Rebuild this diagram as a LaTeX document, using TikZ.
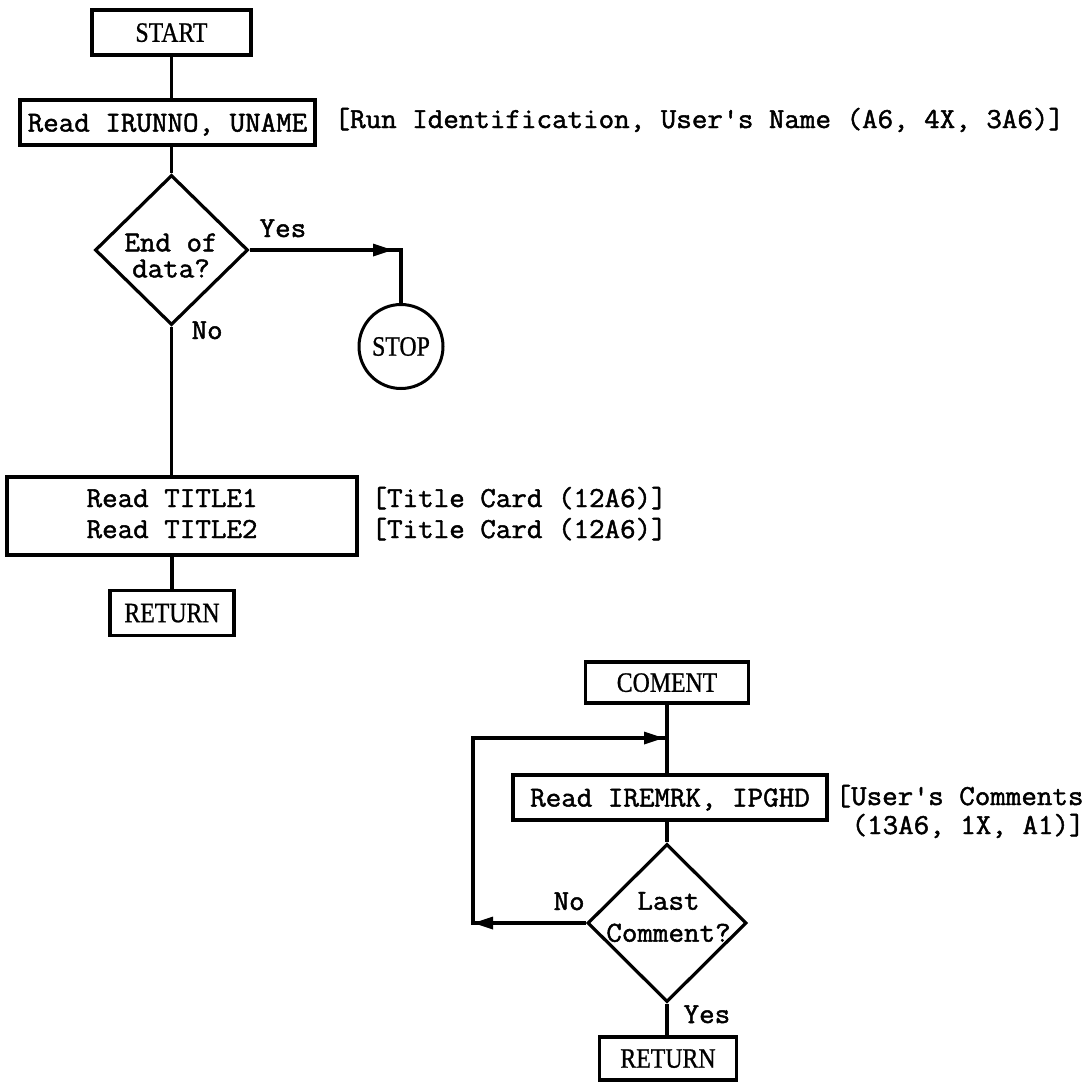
\documentclass[tikz,border=0pt]{standalone}
\usepackage{fontspec}
\usetikzlibrary{shapes.geometric,arrows.meta,calc}
\newfontfamily\flowmono[FakeBold=1.6,FakeStretch=1.04]{Latin Modern Mono}
\newfontfamily\flowserif[FakeStretch=0.85,FakeBold=0.8]{Liberation Serif}
\begin{document}
\begin{tikzpicture}[x=1pt,y=-1pt,
  line width=3.2pt,
  box/.style={draw, rectangle, inner sep=0pt, line width=3.2pt, text depth=0pt},
  dia/.style={draw, diamond, aspect=1, inner sep=0pt, line width=3.2pt},
  term/.style={draw, circle, inner sep=0pt, line width=3pt},
  txt/.style={inner sep=0pt, font=\flowmono\fontsize{29}{32}\selectfont},
  lbl/.style={font=\flowserif\fontsize{28}{30}\selectfont},
  arr/.style={-{Triangle[length=20pt,width=12pt]}},
]
\useasboundingbox (0,0) rectangle (1086,1082);

% ---------- upper flowchart ----------
\node[box, lbl, minimum width=159, minimum height=45] (start) at (171.5,32.5) {START};
\node[box, txt, minimum width=295, minimum height=45] (read1) at (167.5,122.5) {Read IRUNNO, UNAME};
\node[dia, minimum width=153, minimum height=150] (dec1) at (171.5,250) {};
\node[term, lbl, minimum size=84] (stop) at (401,346.5) {STOP};
\node[box, minimum width=350, minimum height=78] (title) at (182,516) {};
\node[box, lbl, minimum width=124, minimum height=45] (ret1) at (172,613) {RETURN};

\node[txt, align=center, font=\flowmono\fontsize{29}{26}\selectfont] (d1) at (171,255.5) {End of\\data?};
\node[txt, anchor=base west] (yes1) at (258,237) {Yes};
\node[txt, anchor=base west] (no1) at (190,339) {No};
\node[txt, anchor=base west] (t1) at (85,507) {Read TITLE1};
\node[txt, anchor=base west] (t2) at (85,538) {Read TITLE2};
\node[txt, anchor=base west] (ann1) at (333,128) {[Run Identification, User\textquotesingle s Name (A6, 4X, 3A6)]};
\node[txt, anchor=base west] (ann2) at (370,507) {[Title Card (12A6)]};
\node[txt, anchor=base west] (ann3) at (370,538) {[Title Card (12A6)]};

\draw (start.south) -- (start.south |- read1.north);
\draw (read1.south -| dec1.north) -- (dec1.north);
\draw (dec1.east) -| (stop.north);
\draw[arr] (dec1.east) -- ($(dec1.east -| stop.north)+(-8,0)$);
\draw (dec1.south) -- (dec1.south |- title.north);
\draw (title.south -| ret1.north) -- (ret1.north);

% ---------- lower flowchart ----------
\node[box, lbl, minimum width=163, minimum height=41] (coment) at (667,682.5) {COMENT};
\node[box, txt, minimum width=314, minimum height=45] (read2) at (670,797.5) {Read IREMRK, IPGHD};
\node[dia, minimum width=159, minimum height=158] (dec2) at (667,923) {};
\node[box, lbl, minimum width=137, minimum height=43] (ret2) at (668,1058.5) {RETURN};

\node[txt, align=center, font=\flowmono\fontsize{29}{32}\selectfont] (d2) at (668.5,917) {Last\\Comment?};
\node[txt, anchor=base west] (no2) at (552,910) {No};
\node[txt, anchor=base west] (yes2) at (682,1023) {Yes};
\node[txt, anchor=base west] (ann4) at (834,805) {[User\textquotesingle s Comments};
\node[txt, anchor=base west] (ann5) at (850,834) {(13A6, 1X, A1)]};

\coordinate (lpa) at (473,923);
\coordinate (lpb) at (473,738);
\coordinate (mrg) at (667,738);

\draw (coment.south) -- (coment.south |- read2.north);
\draw (read2.south -| dec2.north) -- (dec2.north);
\draw (dec2.south) -- (dec2.south |- ret2.north);
\draw (dec2.west) -- (lpa) -- (lpb) -- (mrg);
\draw[arr] (dec2.west) -- (lpa);
\draw[arr] (lpb) -- ($(mrg)+(-3,0)$);
\end{tikzpicture}
\end{document}
